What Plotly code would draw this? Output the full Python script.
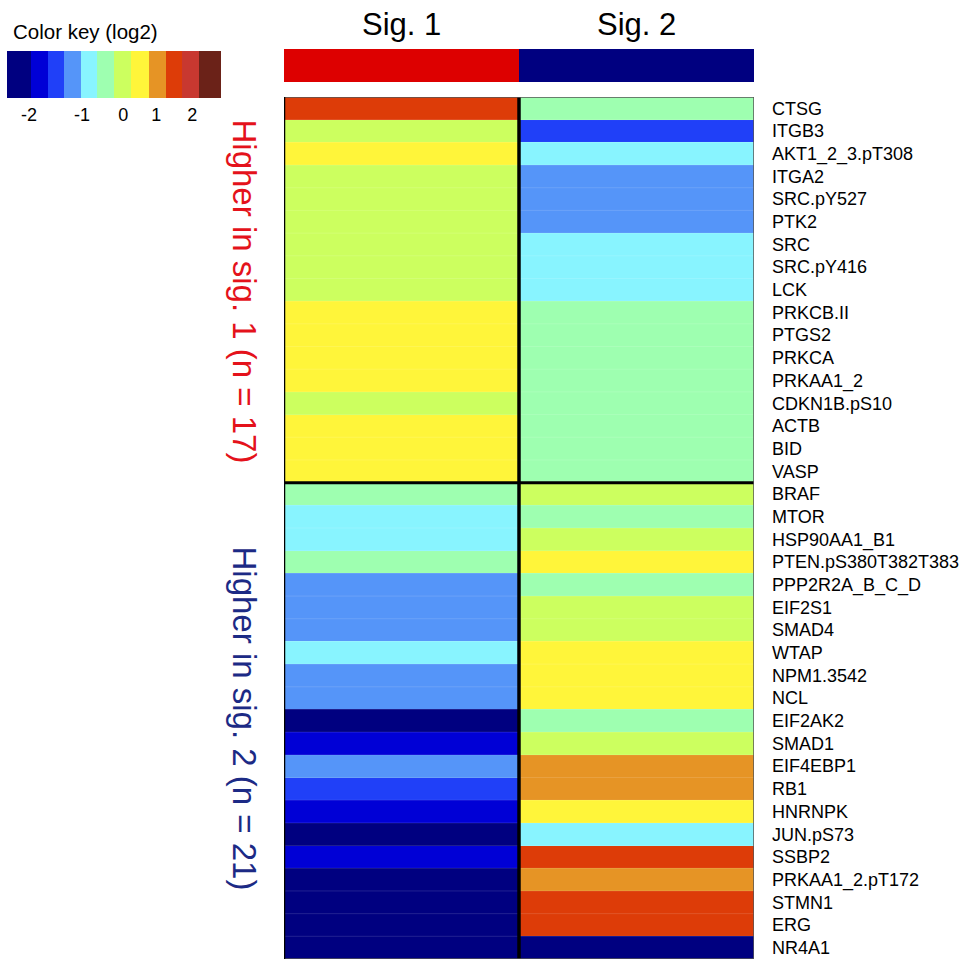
import plotly.graph_objects as go

# ---------------- data ----------------
proteins = [
    "CTSG", "ITGB3", "AKT1_2_3.pT308", "ITGA2", "SRC.pY527", "PTK2", "SRC",
    "SRC.pY416", "LCK", "PRKCB.II", "PTGS2", "PRKCA", "PRKAA1_2", "CDKN1B.pS10",
    "ACTB", "BID", "VASP",
    "BRAF", "MTOR", "HSP90AA1_B1", "PTEN.pS380T382T383", "PPP2R2A_B_C_D",
    "EIF2S1", "SMAD4", "WTAP", "NPM1.3542", "NCL", "EIF2AK2", "SMAD1",
    "EIF4EBP1", "RB1", "HNRNPK", "JUN.pS73", "SSBP2", "PRKAA1_2.pT172",
    "STMN1", "ERG", "NR4A1",
]
signatures = ["Sig. 1", "Sig. 2"]
group_labels = ["Higher in sig. 1 (n = 17)", "Higher in sig. 2 (n = 21)"]
group_sizes = [17, 21]

# log2 values (estimated from the colour bins of the key)
sig1_values = [
    1.5, 0.0, 0.5, 0.0, 0.0, 0.0, 0.0, 0.0, 0.0, 0.5, 0.5, 0.5, 0.5, 0.0,
    0.5, 0.5, 0.5,
    -0.4, -0.8, -0.8, -0.4, -1.15, -1.15, -1.15, -0.8, -1.15, -1.15, -2.3,
    -1.85, -1.15, -1.5, -1.85, -2.3, -1.85, -2.3, -2.3, -2.3, -2.3,
]
sig2_values = [
    -0.4, -1.5, -0.8, -1.15, -1.15, -1.15, -0.8, -0.8, -0.8, -0.4, -0.4,
    -0.4, -0.4, -0.4, -0.4, -0.4, -0.4,
    0.0, -0.4, 0.0, 0.5, -0.4, 0.0, 0.0, 0.5, 0.5, 0.5, -0.4, 0.0, 1.0,
    1.0, 0.5, -0.8, 1.5, 1.0, 1.5, 1.5, -2.3,
]

# colour key: bin breaks (log2) and colours
key_breaks = [-2.5, -2.0, -1.67, -1.33, -1.0, -0.6, -0.2, 0.25, 0.8, 1.3, 1.7, 2.2, 2.8]
key_colors = ["#000080", "#0000D6", "#2040F8", "#5595F9", "#88F4FF", "#9EFFB0",
              "#CCFF5F", "#FFF53A", "#E69425", "#DD3C08", "#C83830", "#6B2218"]
key_tick_labels = ["-2", "-1", "0", "1", "2"]
sig_bar_colors = ["#DD0000", "#000080"]

# ---------------- layout constants ----------------
W, H = 968, 959
def px(x):
    return x / W
def py(y):
    return 1 - y / H

zmin, zmax = key_breaks[0], key_breaks[-1]
colorscale = []
for i, c in enumerate(key_colors):
    a = (key_breaks[i] - zmin) / (zmax - zmin)
    b = (key_breaks[i + 1] - zmin) / (zmax - zmin)
    colorscale.append([a, c])
    colorscale.append([b, c])
colorscale[-1][0] = 1.0

z = [[a, b] for a, b in zip(sig1_values, sig2_values)]
n = len(proteins)

fig = go.Figure()
fig.add_trace(go.Heatmap(
    z=z, x=[0, 1], y=list(range(n)),
    colorscale=colorscale, zmin=zmin, zmax=zmax,
    showscale=False, xaxis="x", yaxis="y", hoverinfo="skip",
))

# colour key drawn as a one-row heatmap; bin edges in key pixel units
key_edges = [0, 24, 40.7, 57, 73.7, 90.3, 107, 123.7, 141.3, 158.7, 174.7, 192, 213.7]
key_tick_pos = [22, 75, 116, 149, 185]
key_mid = [(key_breaks[i] + key_breaks[i + 1]) / 2 for i in range(len(key_colors))]
fig.add_trace(go.Heatmap(
    z=[key_mid], x=key_edges, y=[0, 1],
    colorscale=colorscale, zmin=zmin, zmax=zmax,
    showscale=False, xaxis="x2", yaxis="y2", hoverinfo="skip",
))

shapes = []
# faint row separators
for i in range(n - 1):
    shapes.append(dict(type="line", xref="x", yref="y", x0=-0.5, x1=1.5,
                       y0=i + 0.5, y1=i + 0.5,
                       line=dict(color="rgba(255,255,255,0.13)", width=1)))
# group divider
split = group_sizes[0] - 0.5
shapes.append(dict(type="line", xref="x", yref="y", x0=-0.5, x1=1.5, y0=split, y1=split,
                   line=dict(color="black", width=3)))
# column divider
shapes.append(dict(type="line", xref="x", yref="y", x0=0.5, x1=0.5, y0=-0.5, y1=n - 0.5,
                   line=dict(color="black", width=3.5)))
# outer border
shapes.append(dict(type="rect", xref="x", yref="y", x0=-0.5, x1=1.5, y0=-0.5, y1=n - 0.5,
                   line=dict(color="#555555", width=1.5)))
shapes.append(dict(type="line", xref="x", yref="y", x0=-0.5, x1=-0.5, y0=-0.5, y1=n - 0.5,
                   line=dict(color="black", width=2.5)))
# signature colour bars
for j, c in enumerate(sig_bar_colors):
    shapes.append(dict(type="rect", xref="x", yref="paper", x0=j - 0.5, x1=j + 0.5,
                       y0=py(82), y1=py(49), fillcolor=c, line=dict(width=0)))

annotations = []
for j, s in enumerate(signatures):
    annotations.append(dict(text=s, xref="x", yref="paper", x=j, y=py(25),
                            xanchor="center", yanchor="middle", showarrow=False,
                            font=dict(size=31, color="black")))
annotations.append(dict(text="Color key (log2)", xref="paper", yref="paper",
                        x=px(11), y=py(32), xanchor="left", yanchor="middle",
                        showarrow=False, font=dict(size=20.5, color="black")))
group_colors = ["#E4121B", "#1C2A85"]
group_centers = [291.5, 718.5]
for g, lab in enumerate(group_labels):
    annotations.append(dict(text=lab, xref="paper", yref="paper",
                            x=px(244), y=py(group_centers[g]), xanchor="center",
                            yanchor="middle", textangle=90, showarrow=False,
                            font=dict(size=33, color=group_colors[g])))

fig.update_layout(
    width=W, height=H,
    margin=dict(l=0, r=0, t=0, b=0),
    paper_bgcolor="white", plot_bgcolor="white",
    font=dict(family="Liberation Sans, Arial, sans-serif", color="black"),
    xaxis=dict(domain=[px(284), px(754)], range=[-0.5, 1.5], showticklabels=False,
               showgrid=False, zeroline=False, ticks=""),
    yaxis=dict(domain=[0, py(97)], range=[n - 0.5, -0.5], side="right",
               tickmode="array", tickvals=list(range(n)), ticktext=proteins,
               ticks="", showgrid=False, zeroline=False, ticklabelstandoff=17,
               tickfont=dict(size=18, color="black")),
    xaxis2=dict(domain=[px(7), px(221)], range=[0, 213.7], anchor="y2",
                tickmode="array", tickvals=key_tick_pos, ticktext=key_tick_labels,
                ticks="", showgrid=False, zeroline=False, ticklabelstandoff=4,
                tickfont=dict(size=18, color="black")),
    yaxis2=dict(domain=[py(98), py(51)], range=[0, 1], anchor="x2",
                showticklabels=False, showgrid=False, zeroline=False, ticks=""),
    shapes=shapes,
    annotations=annotations,
)

fig.write_html("out.html",
               config={"displayModeBar": False},
               post_script="document.body.style.margin='0px';"
                           "document.body.style.overflow='hidden';")
